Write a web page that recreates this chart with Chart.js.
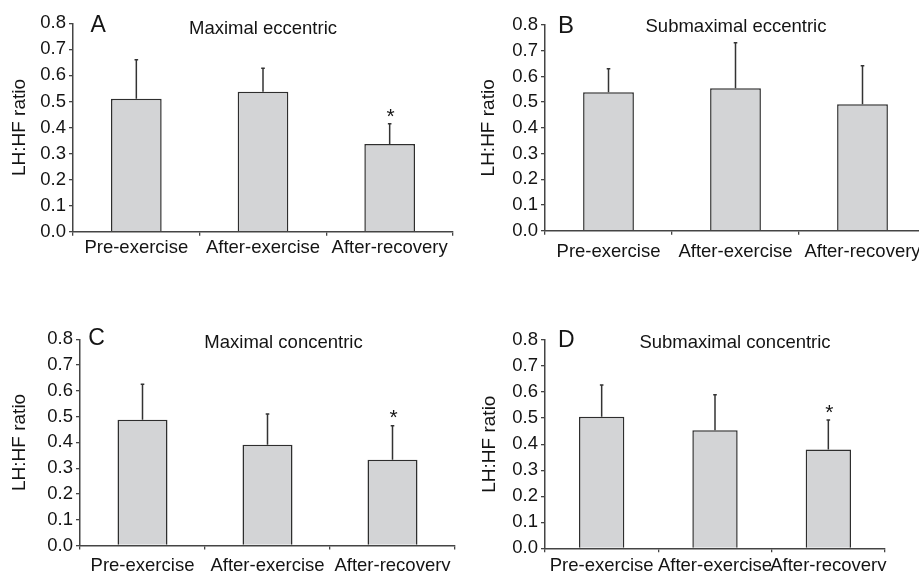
<!DOCTYPE html>
<html><head><meta charset="utf-8">
<script src="https://cdn.jsdelivr.net/npm/chart.js@4"></script>
<style>
html,body{margin:0;padding:0;width:919px;height:571px;overflow:hidden;background:#fff;position:relative}
canvas{position:absolute}
</style></head><body>
<canvas id="cA" width="460" height="285" style="left:0px;top:0px"></canvas>
<canvas id="cB" width="480" height="285" style="left:460px;top:0px"></canvas>
<canvas id="cC" width="460" height="310" style="left:0px;top:285px"></canvas>
<canvas id="cD" width="460" height="310" style="left:460px;top:285px"></canvas>
<script>
// ---- data ----
const categories = ['Pre-exercise', 'After-exercise', 'After-recovery'];
const yTickLabels = ['0.0','0.1','0.2','0.3','0.4','0.5','0.6','0.7','0.8'];
const yAxisTitle = 'LH:HF ratio';

const titleA = 'Maximal eccentric';
const meanA = [0.510, 0.537, 0.337];
const errA  = [0.150, 0.090, 0.077];
const sigA  = [false, false, true];

const titleB = 'Submaximal eccentric';
const meanB = [0.538, 0.554, 0.492];
const errB  = [0.092, 0.177, 0.150];
const sigB  = [false, false, false];

const titleC = 'Maximal concentric';
const meanC = [0.488, 0.391, 0.333];
const errC  = [0.138, 0.119, 0.132];
const sigC  = [false, false, true];

const titleD = 'Submaximal concentric';
const meanD = [0.505, 0.453, 0.379];
const errD  = [0.122, 0.137, 0.114];
const sigD  = [false, false, true];

// ---- drawing ----
const FONT = '"Liberation Sans", Arial, Helvetica, sans-serif';
const TXT = '#141414';

const extrasPlugin = {
  id: 'extras',
  afterDatasetsDraw(chart, args, opts) {
    const ctx = chart.ctx;
    const x = chart.scales.x, y = chart.scales.y;
    const ca = chart.chartArea;
    ctx.save();
    // error bars (upper only)
    ctx.strokeStyle = '#333';
    ctx.lineWidth = 1.5;
    opts.mean.forEach((m, i) => {
      const px = x.getPixelForValue(i);
      const y0 = y.getPixelForValue(m);
      const y1 = y.getPixelForValue(m + opts.err[i]);
      ctx.beginPath();
      ctx.moveTo(px, y0);
      ctx.lineTo(px, y1);
      ctx.moveTo(px - 1.8, y1);
      ctx.lineTo(px + 1.8, y1);
      ctx.stroke();
      if (opts.sig[i]) {
        ctx.fillStyle = TXT;
        ctx.font = '21px ' + FONT;
        ctx.textAlign = 'center';
        ctx.textBaseline = 'middle';
        ctx.fillText('*', px + 1, y1 - 7);
      }
    });
    // panel letter
    ctx.fillStyle = TXT;
    ctx.textAlign = 'left';
    ctx.textBaseline = 'alphabetic';
    ctx.font = opts.letterSize + 'px ' + FONT;
    ctx.fillText(opts.letter, ca.left + opts.letterDx, ca.top + opts.letterDy);
    // panel title
    ctx.textAlign = 'center';
    ctx.font = '18.5px ' + FONT;
    ctx.fillText(opts.title, ca.left + opts.titleDx, ca.top + opts.titleDy);
    ctx.restore();
  }
};

function makeChart(id, mean, err, sig, title, letter, lay) {
  return new Chart(document.getElementById(id), {
    type: 'bar',
    data: {
      labels: categories,
      datasets: [{
        data: mean,
        backgroundColor: '#d3d4d6',
        borderColor: '#2e2e2e',
        borderWidth: 1.5,
        barPercentage: 0.4,
        categoryPercentage: 1.0
      }]
    },
    options: {
      responsive: false,
      animation: false,
      events: [],
      layout: { padding: { top: lay.top, bottom: lay.bottom, left: 0, right: lay.right } },
      plugins: {
        legend: { display: false },
        tooltip: { enabled: false },
        extras: {
          mean, err, sig, title, letter,
          letterSize: lay.letterSize, letterDx: lay.letterDx, letterDy: lay.letterDy,
          titleDx: lay.titleDx, titleDy: lay.titleDy
        }
      },
      scales: {
        x: {
          offset: true,
          grid: { display: true, offset: true, drawOnChartArea: false, drawTicks: true, tickLength: 4, color: '#444', lineWidth: 1.3 },
          border: { display: true, color: '#444', width: 1.5 },
          ticks: { color: TXT, font: { family: FONT, size: 18.5 }, padding: lay.xPad, maxRotation: 0, minRotation: 0, autoSkip: false },
          afterFit(s) { s.height = 40; }
        },
        y: {
          min: 0, max: 0.8,
          ticks: {
            stepSize: 0.1, color: TXT, font: { family: FONT, size: 18.5 }, padding: 3,
            callback: (v) => yTickLabels[Math.round(v * 10)]
          },
          grid: { display: true, drawOnChartArea: false, drawTicks: true, tickLength: 4, color: '#444', lineWidth: 1.3 },
          border: { display: true, color: '#444', width: 1.5 },
          title: { display: true, text: yAxisTitle, color: TXT, font: { family: FONT, size: 19 }, padding: { top: lay.titlePad, bottom: 0 } },
          afterFit(s) { s.width = lay.yWidth; }
        }
      }
    },
    plugins: [extrasPlugin]
  });
}

makeChart('cA', meanA, errA, sigA, titleA, 'A',
  { top: 23.3, bottom: 13.3, right: 7, yWidth: 73, titlePad: 8, xPad: 1,
    letterSize: 23, letterDx: 17.5, letterDy: 8.4, titleDx: 190, titleDy: 11 });
makeChart('cB', meanB, errB, sigB, titleB, 'B',
  { top: 25, bottom: 14.3, right: 14, yWidth: 85, titlePad: 17, xPad: 6,
    letterSize: 24, letterDx: 13, letterDy: 8, titleDx: 191, titleDy: 6.7 });
makeChart('cC', meanC, errC, sigC, titleC, 'C',
  { top: 54.3, bottom: 9.5, right: 5, yWidth: 80, titlePad: 8, xPad: 5,
    letterSize: 23, letterDx: 8.3, letterDy: 5.7, titleDx: 203.5, titleDy: 9 });
makeChart('cD', meanD, errD, sigD, titleD, 'D',
  { top: 55, bottom: 6.7, right: 35, yWidth: 85, titlePad: 18, xPad: 3,
    letterSize: 23, letterDx: 13, letterDy: 6.7, titleDx: 190, titleDy: 8.3 });
</script>
</body></html>
